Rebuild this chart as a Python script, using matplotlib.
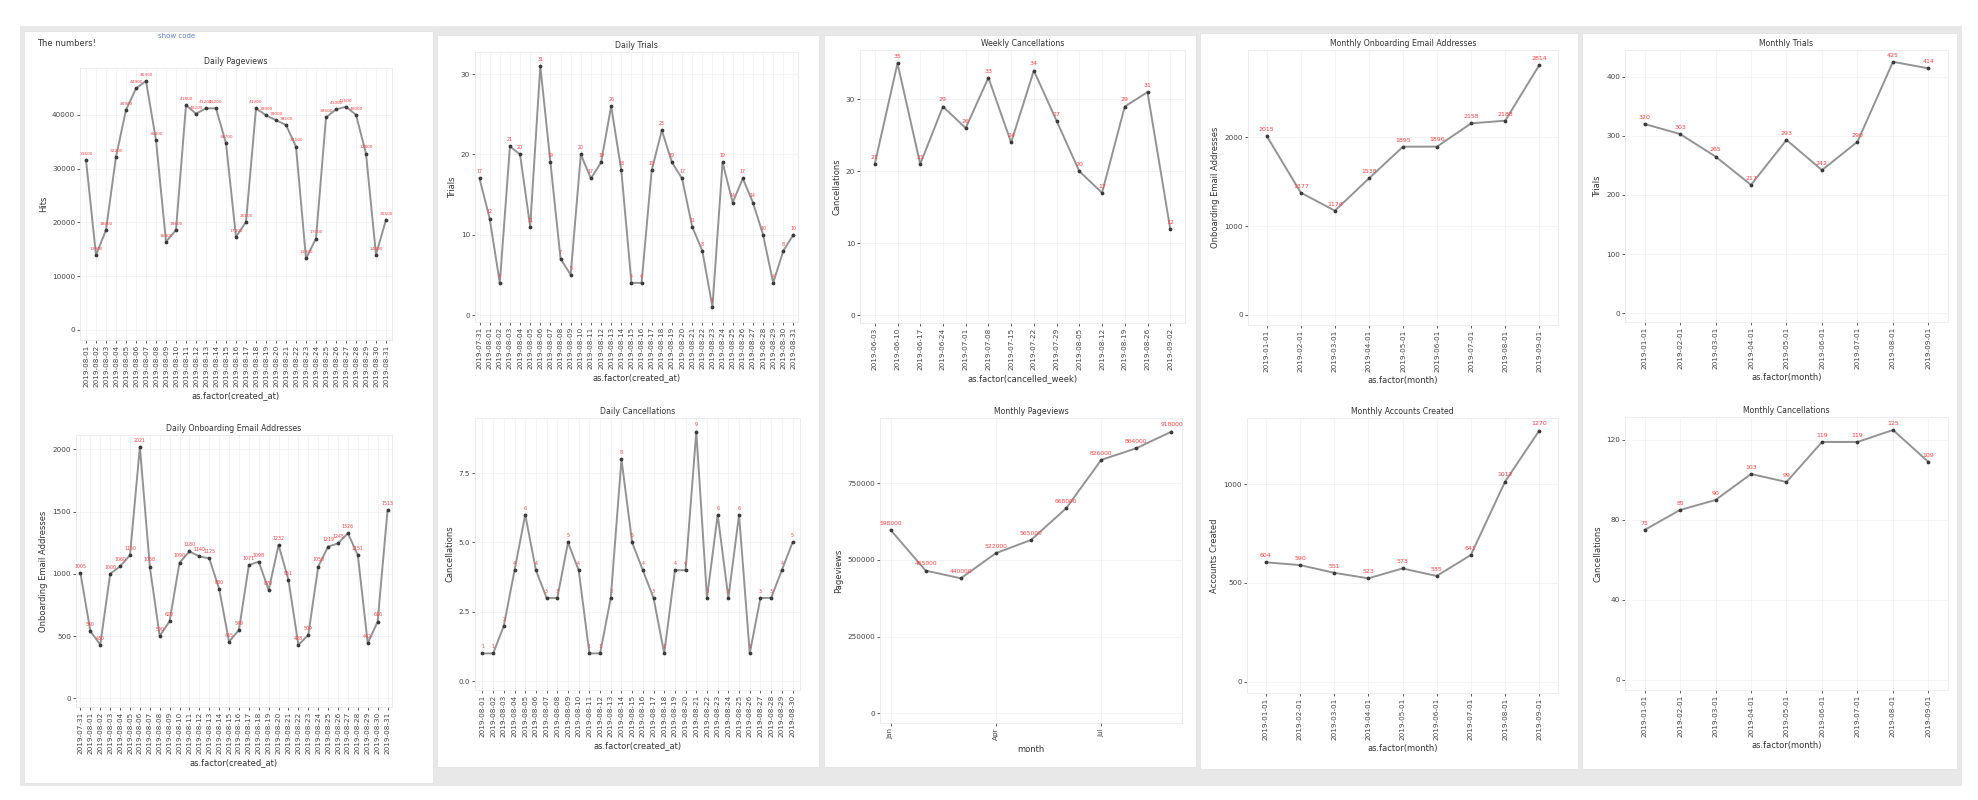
import matplotlib
matplotlib.use("Agg")
import matplotlib.pyplot as plt
from matplotlib.patches import Rectangle
import pandas as pd

W, H = 1978, 800

# ---------------- data ----------------
daily_pv_dates = [d.strftime("%Y-%m-%d") for d in pd.date_range("2019-08-01", periods=31)]
daily_pageviews = [31600, 13900, 18600, 32200, 40900, 44900, 46300, 35300, 16400, 18600,
                   41800, 40200, 41200, 41200, 34700, 17300, 20100, 41200, 39900, 39000,
                   38100, 34100, 13300, 17000, 39500, 41000, 41500, 40000, 32800, 14000, 20500]

daily_ob_dates = [d.strftime("%Y-%m-%d") for d in pd.date_range("2019-07-31", periods=32)]
daily_onboarding = [1005, 540, 430, 1000, 1060, 1150, 2021, 1058, 500, 620,
                    1090, 1180, 1140, 1125, 880, 455, 549, 1071, 1098, 870,
                    1232, 951, 428, 509, 1058, 1219, 1245, 1326, 1151, 442, 616, 1513]

daily_tr_dates = [d.strftime("%Y-%m-%d") for d in pd.date_range("2019-07-31", periods=32)]
daily_trials = [17, 12, 4, 21, 20, 11, 31, 19, 7, 5, 20, 17, 19, 26, 18, 4,
                4, 18, 23, 19, 17, 11, 8, 1, 19, 14, 17, 14, 10, 4, 8, 10]

daily_ca_dates = [d.strftime("%Y-%m-%d") for d in pd.date_range("2019-08-01", periods=30)]
daily_cancellations = [1, 1, 2, 4, 6, 4, 3, 3, 5, 4, 1, 1, 3, 8, 5, 4, 3, 1, 4, 4,
                       9, 3, 6, 3, 6, 1, 3, 3, 4, 5]

weekly_dates = [d.strftime("%Y-%m-%d") for d in pd.date_range("2019-06-03", periods=14, freq="7D")]
weekly_cancellations = [21, 35, 21, 29, 26, 33, 24, 34, 27, 20, 17, 29, 31, 12]

month_dates = [d.strftime("%Y-%m-%d") for d in pd.date_range("2019-01-01", periods=9, freq="MS")]
monthly_pageviews = [598000, 465000, 440000, 522000, 565000, 668000, 826000, 864000, 918000]
monthly_pv_ticks = [0, 3, 6]
monthly_pv_ticklabels = ["Jan", "Apr", "Jul"]
monthly_onboarding = [2015, 1377, 1174, 1538, 1895, 1896, 2158, 2188, 2814]
monthly_accounts = [604, 590, 551, 523, 573, 535, 641, 1012, 1270]
monthly_trials = [320, 303, 265, 217, 293, 242, 290, 425, 414]
monthly_cancellations = [75, 85, 90, 103, 99, 119, 119, 125, 109]

# ---------------- figure ----------------
fig = plt.figure(figsize=(W / 100, H / 100), dpi=100)
fig.patch.set_facecolor("white")


def rect(x0, y0, x1, y1, color, z=0, ec="none"):
    fig.add_artist(Rectangle((x0 / W, 1 - y1 / H), (x1 - x0) / W, (y1 - y0) / H,
                             transform=fig.transFigure, facecolor=color, edgecolor=ec,
                             lw=0.6, zorder=z))


rect(20, 26, 1962, 786, "#e8e8e8", z=-10)
rect(24, 31, 433, 783, "white", z=-9, ec="#e2e2e2")
rect(437, 35, 819, 767, "white", z=-9, ec="#e2e2e2")
rect(824, 35, 1196, 767, "white", z=-9, ec="#e2e2e2")
rect(1200, 33, 1578, 769, "white", z=-9, ec="#e2e2e2")
rect(1582, 33, 1957, 769, "white", z=-9, ec="#e2e2e2")

fig.text(37 / W, 1 - 43 / H, "The numbers!", fontsize=6, color="#333333", va="center", ha="left")
fig.text(158 / W, 1 - 36 / H, "show code", fontsize=5, color="#5b7fd6", va="center", ha="left")


def make_ax(box, title, ylabel, xlabel, x_labels, values, ylim, yticks, yticklabels,
            pad=0.6, lab_fs=3.4, xticks=None, xticklabels=None):
    l, t, r, b = box
    ax = fig.add_axes([l / W, 1 - b / H, (r - l) / W, (b - t) / H])
    xs = list(range(len(values)))
    ax.plot(xs, values, color="#939393", lw=1.4, zorder=2)
    ax.scatter(xs, values, s=3, color="#3a3a3a", zorder=3)
    for x, v in zip(xs, values):
        ax.annotate(f"{v}", (x, v), xytext=(0, 3),
                    textcoords="offset points", ha="center", va="bottom",
                    fontsize=lab_fs, color="#ff4040", zorder=4)
    ax.set_xlim(-pad, len(values) - 1 + pad)
    ax.set_ylim(*ylim)
    ax.set_yticks(yticks)
    ax.set_yticklabels(yticklabels)
    if xticks is None:
        ax.set_xticks(xs)
        ax.set_xticklabels(x_labels, rotation=90)
    else:
        ax.set_xticks(xticks)
        ax.set_xticklabels(xticklabels, rotation=90)
    ax.tick_params(axis="both", labelsize=5.2, colors="#444444", length=2, width=0.6, pad=1.5)
    ax.set_title(title, fontsize=5.6, color="#333333", pad=3)
    ax.set_ylabel(ylabel, fontsize=6, color="#333333", labelpad=3)
    ax.set_xlabel(xlabel, fontsize=6, color="#333333", labelpad=3)
    ax.grid(True, color="#f2f2f2", lw=0.6, zorder=0)
    ax.set_axisbelow(True)
    for s in ax.spines.values():
        s.set_color("#ececec")
        s.set_linewidth(0.7)
    return ax


make_ax((80, 68, 392, 340), "Daily Pageviews", "Hits", "as.factor(created_at)",
        daily_pv_dates, daily_pageviews, (-1860, 48700),
        [0, 10000, 20000, 30000, 40000], ["0", "10000", "20000", "30000", "40000"], lab_fs=3.1)

make_ax((76, 435, 392, 707), "Daily Onboarding Email Addresses", "Onboarding Email Addresses",
        "as.factor(created_at)", daily_ob_dates, daily_onboarding, (-70, 2116),
        [0, 500, 1000, 1500, 2000], ["0", "500", "1000", "1500", "2000"], pad=0.45)

make_ax((475, 52, 798, 322), "Daily Trials", "Trials", "as.factor(created_at)",
        daily_tr_dates, daily_trials, (-0.87, 32.75),
        [0, 10, 20, 30], ["0", "10", "20", "30"], pad=0.45)

make_ax((475, 418, 800, 690), "Daily Cancellations", "Cancellations", "as.factor(created_at)",
        daily_ca_dates, daily_cancellations, (-0.32, 9.49),
        [0, 2.5, 5.0, 7.5], ["0.0", "2.5", "5.0", "7.5"], pad=0.7)

make_ax((860, 50, 1185, 323), "Weekly Cancellations", "Cancellations", "as.factor(cancelled_week)",
        weekly_dates, weekly_cancellations, (-1.1, 36.86),
        [0, 10, 20, 30], ["0", "10", "20", "30"], pad=0.65, lab_fs=4.5)

make_ax((880, 418, 1182, 723), "Monthly Pageviews", "Pageviews", "month",
        month_dates, monthly_pageviews, (-31600, 962500),
        [0, 250000, 500000, 750000], ["0", "250000", "500000", "750000"], pad=0.3, lab_fs=4.3,
        xticks=monthly_pv_ticks, xticklabels=monthly_pv_ticklabels)

make_ax((1248, 50, 1558, 325), "Monthly Onboarding Email Addresses", "Onboarding Email Addresses",
        "as.factor(month)", month_dates, monthly_onboarding, (-113, 2984),
        [0, 1000, 2000], ["0", "1000", "2000"], pad=0.55, lab_fs=4.5)

make_ax((1247, 418, 1558, 693), "Monthly Accounts Created", "Accounts Created", "as.factor(month)",
        month_dates, monthly_accounts, (-57, 1334),
        [0, 500, 1000], ["0", "500", "1000"], pad=0.55, lab_fs=4.5)

make_ax((1625, 50, 1948, 322), "Monthly Trials", "Trials", "as.factor(month)",
        month_dates, monthly_trials, (-14.7, 445),
        [0, 100, 200, 300, 400], ["0", "100", "200", "300", "400"], pad=0.55, lab_fs=4.5)

make_ax((1625, 417, 1948, 690), "Monthly Cancellations", "Cancellations", "as.factor(month)",
        month_dates, monthly_cancellations, (-5, 131.5),
        [0, 40, 80, 120], ["0", "40", "80", "120"], pad=0.55, lab_fs=4.5)

fig.savefig("out.png", dpi=100, facecolor="white")
